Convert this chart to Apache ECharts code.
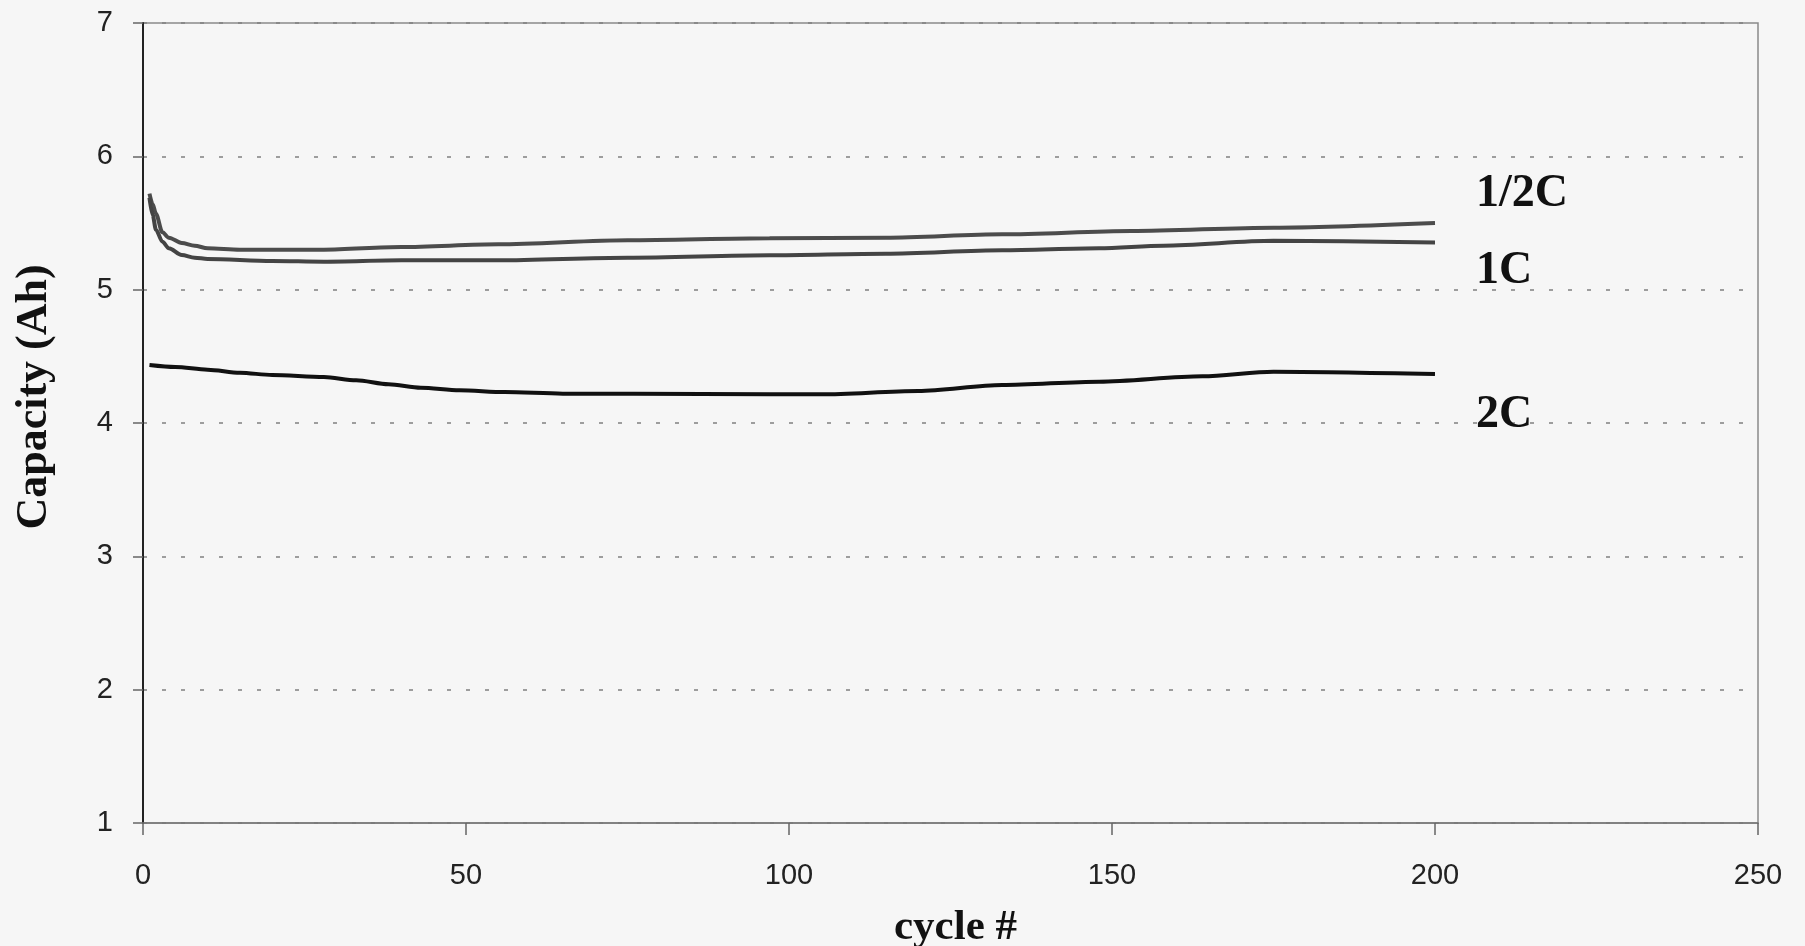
<!DOCTYPE html>
<html>
<head>
<meta charset="utf-8">
<script src="https://cdn.jsdelivr.net/npm/echarts@6/dist/echarts.min.js"></script>
<style>
html,body{margin:0;padding:0;background:#f6f6f6;}
#chart{width:1805px;height:946px;}
</style>
</head>
<body>
<div id="chart"></div>
<script>
// Data: [cycle, capacity (Ah)]
var halfC = [[1,5.72],[1.5,5.64],[2,5.57],[3,5.43],[4,5.39],[6,5.35],[8,5.33],[10,5.31],[15,5.30],[20,5.30],[28,5.30],[40,5.32],[55,5.34],[75,5.37],[97,5.385],[115,5.39],[133,5.415],[153,5.44],[175,5.465],[200,5.50]];
var oneC = [[1,5.69],[1.5,5.56],[2,5.45],[3,5.36],[4,5.31],[6,5.26],[8,5.24],[10,5.23],[20,5.215],[28,5.21],[40,5.22],[55,5.22],[75,5.24],[97,5.258],[115,5.27],[133,5.295],[148,5.31],[158,5.33],[175,5.366],[200,5.354]];
var twoC = [[1,4.435],[5,4.42],[10,4.40],[15,4.377],[20,4.36],[28,4.345],[33,4.32],[38,4.29],[43,4.264],[49,4.245],[56,4.232],[65,4.22],[76,4.22],[97,4.215],[105,4.215],[120,4.24],[133,4.285],[148,4.31],[164,4.35],[175,4.385],[200,4.367]];
var seriesNames = ['1/2C','1C','2C'];
var xTicks = {min:0, max:250, interval:50};
var yTicks = {min:1, max:7, interval:1};
var xTitle = 'cycle #';
var yTitle = 'Capacity (Ah)';

var chart = echarts.init(document.getElementById('chart'), null, {renderer:'canvas'});
var serif = '"Liberation Serif","Times New Roman",serif';
var sans = '"Liberation Sans",Arial,sans-serif';
function endLbl(dy){
  return {show:true, formatter:'{a}', distance:41, offset:[0,dy],
    fontFamily:serif, fontWeight:'bold', fontSize:46, color:'#111', align:'left'};
}
chart.setOption({
  backgroundColor:'#f6f6f6',
  animation:false,
  grid:{left:143, right:47, top:23, bottom:123, containLabel:false, outerBoundsMode:'none',
    show:true, borderColor:'#8a8a8a', borderWidth:1.5, backgroundColor:'transparent'},
  xAxis:{type:'value', min:xTicks.min, max:xTicks.max, interval:xTicks.interval,
    name:xTitle, nameLocation:'middle', nameGap:83,
    nameTextStyle:{fontFamily:serif, fontWeight:'bold', fontSize:43, color:'#111', padding:[0,0,0,10]},
    axisLine:{show:true, onZero:false, lineStyle:{color:'#777', width:1.5}},
    axisTick:{show:true, length:12, lineStyle:{color:'#666', width:1.5}},
    axisLabel:{margin:38, fontFamily:sans, fontSize:29, color:'#222'},
    splitLine:{show:false}},
  yAxis:{type:'value', min:yTicks.min, max:yTicks.max, interval:yTicks.interval,
    name:yTitle, nameLocation:'middle', nameGap:86, nameRotate:90,
    nameTextStyle:{fontFamily:serif, fontWeight:'bold', fontSize:44, color:'#111', padding:[0,0,0,52]},
    axisLine:{show:true, onZero:false, lineStyle:{color:'#222', width:2}},
    axisTick:{show:true, length:10, lineStyle:{color:'#666', width:1.5}},
    axisLabel:{margin:30, fontFamily:sans, fontSize:29, color:'#222'},
    splitLine:{show:true, lineStyle:{color:'#808080', width:1.5, type:[4,15]}}},
  series:[
    {name:seriesNames[0], type:'line', data:halfC, showSymbol:false, smooth:0.3, smoothMonotone:'x', lineStyle:{color:'#4c4c4c', width:4}, endLabel:endLbl(-29)},
    {name:seriesNames[1], type:'line', data:oneC, showSymbol:false, smooth:0.3, smoothMonotone:'x', lineStyle:{color:'#444', width:4}, endLabel:endLbl(29)},
    {name:seriesNames[2], type:'line', data:twoC, showSymbol:false, smooth:0.3, smoothMonotone:'x', lineStyle:{color:'#111', width:4}, endLabel:endLbl(41)}
  ]
});
</script>
</body>
</html>
